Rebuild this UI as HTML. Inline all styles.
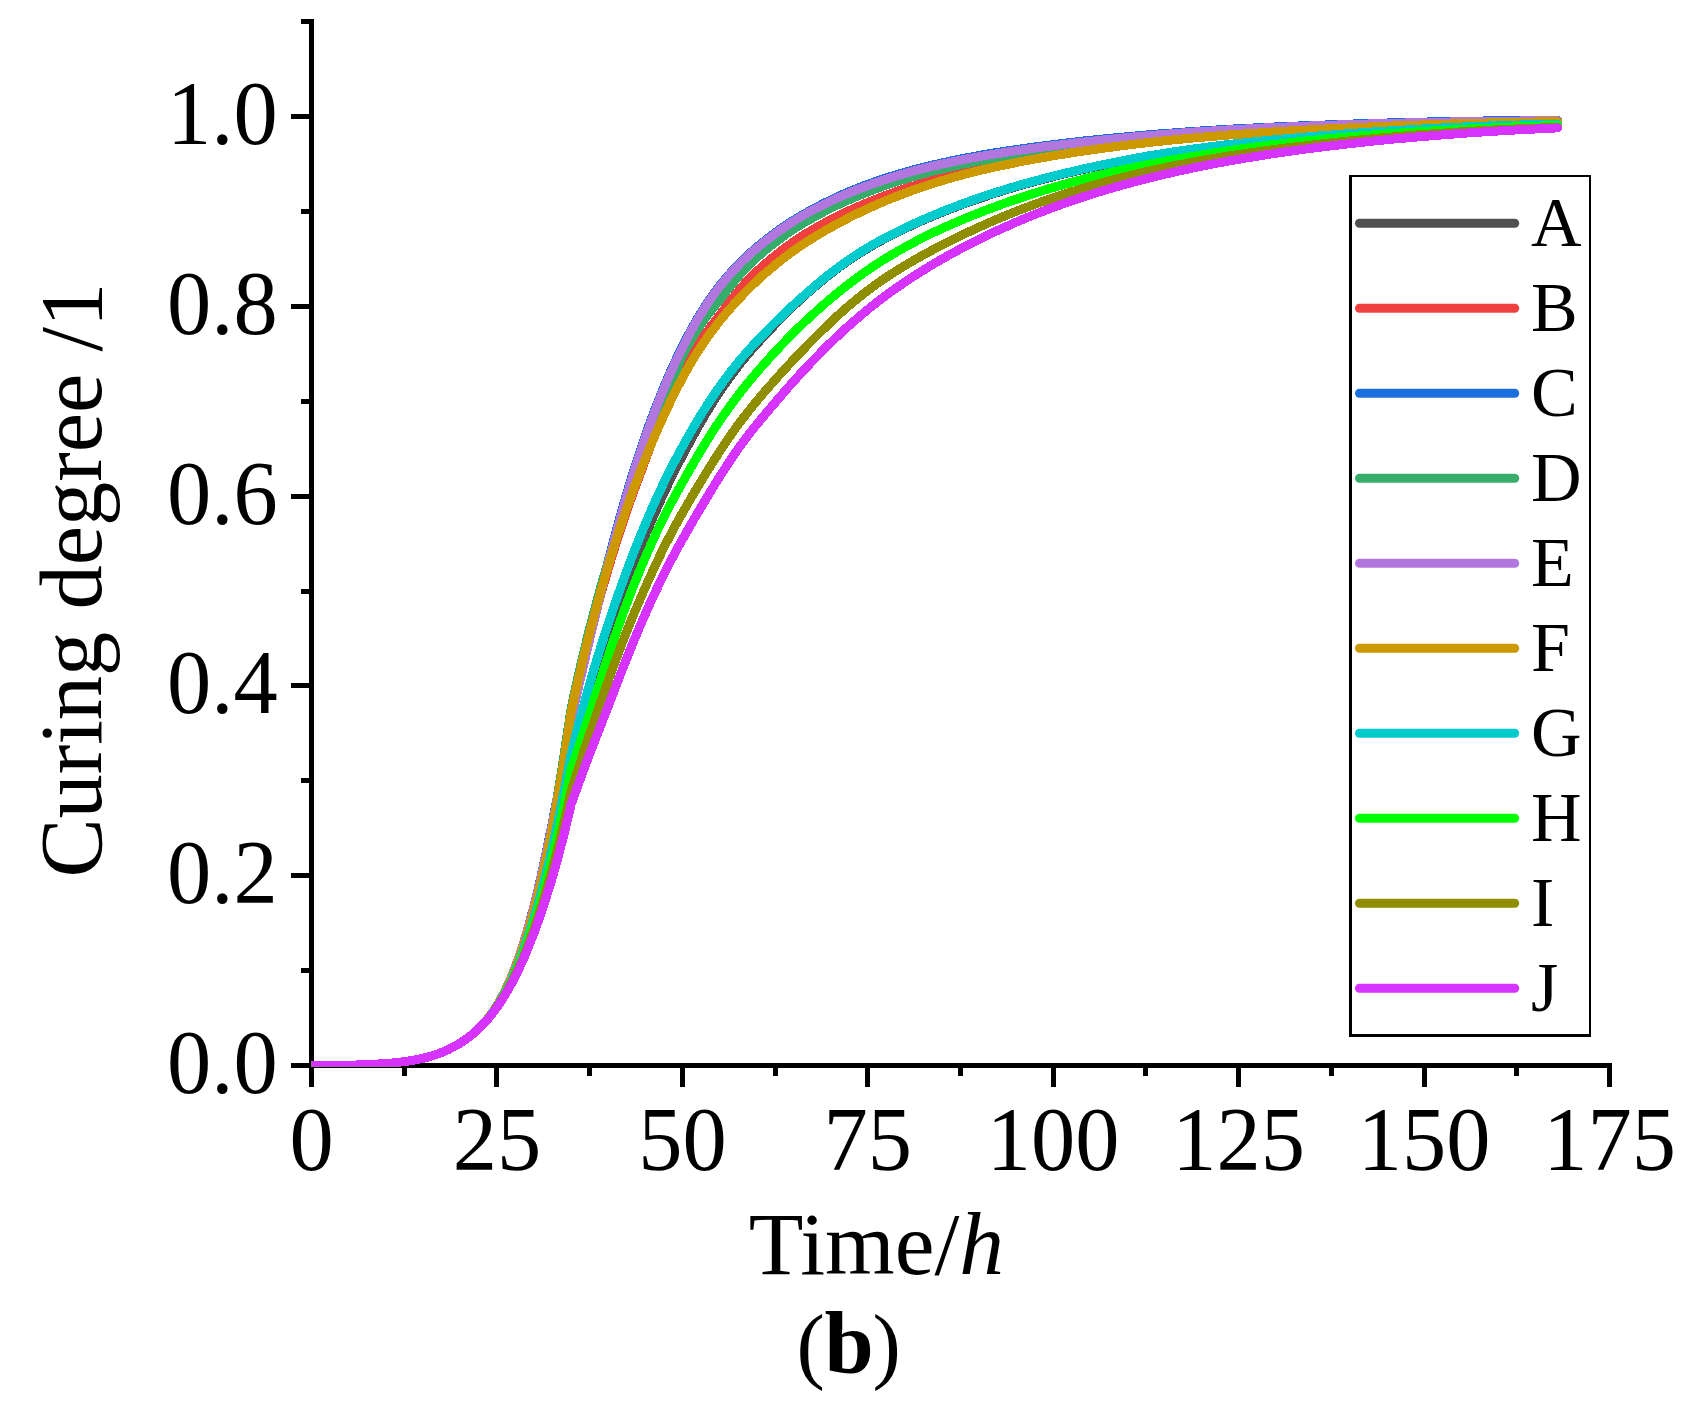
<!DOCTYPE html>
<html lang="en"><head><meta charset="utf-8"><title>Curing degree vs time (b)</title>
<style>
html,body{margin:0;padding:0;background:#fff;overflow:hidden;}
svg{display:block;}
text{font-family:"Liberation Serif","Times New Roman",serif;fill:#000;}
</style></head><body>
<svg width="1697" height="1413" viewBox="0 0 1697 1413">
<rect width="1697" height="1413" fill="#fff"/>
<g stroke="#000" stroke-width="5" fill="none" stroke-linecap="butt" shape-rendering="crispEdges">
<line x1="311.5" y1="19" x2="311.5" y2="1087"/>
<line x1="291" y1="1065.5" x2="1612" y2="1065.5"/>
<line x1="291" y1="1065.5" x2="311.5" y2="1065.5"/>
<line x1="301" y1="970.6" x2="311.5" y2="970.6"/>
<line x1="291" y1="875.7" x2="311.5" y2="875.7"/>
<line x1="301" y1="780.8" x2="311.5" y2="780.8"/>
<line x1="291" y1="685.9" x2="311.5" y2="685.9"/>
<line x1="301" y1="591.0" x2="311.5" y2="591.0"/>
<line x1="291" y1="496.1" x2="311.5" y2="496.1"/>
<line x1="301" y1="401.2" x2="311.5" y2="401.2"/>
<line x1="291" y1="306.3" x2="311.5" y2="306.3"/>
<line x1="301" y1="211.4" x2="311.5" y2="211.4"/>
<line x1="291" y1="116.5" x2="311.5" y2="116.5"/>
<line x1="301" y1="21.6" x2="311.5" y2="21.6"/>
<line x1="311.5" y1="1065.5" x2="311.5" y2="1087"/>
<line x1="404.2" y1="1065.5" x2="404.2" y2="1076"/>
<line x1="496.9" y1="1065.5" x2="496.9" y2="1087"/>
<line x1="589.6" y1="1065.5" x2="589.6" y2="1076"/>
<line x1="682.4" y1="1065.5" x2="682.4" y2="1087"/>
<line x1="775.1" y1="1065.5" x2="775.1" y2="1076"/>
<line x1="867.8" y1="1065.5" x2="867.8" y2="1087"/>
<line x1="960.5" y1="1065.5" x2="960.5" y2="1076"/>
<line x1="1053.2" y1="1065.5" x2="1053.2" y2="1087"/>
<line x1="1145.9" y1="1065.5" x2="1145.9" y2="1076"/>
<line x1="1238.6" y1="1065.5" x2="1238.6" y2="1087"/>
<line x1="1331.4" y1="1065.5" x2="1331.4" y2="1076"/>
<line x1="1424.1" y1="1065.5" x2="1424.1" y2="1087"/>
<line x1="1516.8" y1="1065.5" x2="1516.8" y2="1076"/>
<line x1="1609.5" y1="1065.5" x2="1609.5" y2="1087"/>
</g>
<g font-size="88.5">
<text transform="translate(277.7,1092.9) scale(1,1.033)" text-anchor="end">0.0</text>
<text transform="translate(277.7,903.1) scale(1,1.033)" text-anchor="end">0.2</text>
<text transform="translate(277.7,713.3) scale(1,1.033)" text-anchor="end">0.4</text>
<text transform="translate(277.7,523.5) scale(1,1.033)" text-anchor="end">0.6</text>
<text transform="translate(277.7,333.7) scale(1,1.033)" text-anchor="end">0.8</text>
<text transform="translate(277.7,143.9) scale(1,1.033)" text-anchor="end">1.0</text>
<text transform="translate(311.5,1169.8) scale(1,1.033)" text-anchor="middle">0</text>
<text transform="translate(496.9,1169.8) scale(1,1.033)" text-anchor="middle">25</text>
<text transform="translate(682.4,1169.8) scale(1,1.033)" text-anchor="middle">50</text>
<text transform="translate(867.8,1169.8) scale(1,1.033)" text-anchor="middle">75</text>
<text transform="translate(1053.2,1169.8) scale(1,1.033)" text-anchor="middle">100</text>
<text transform="translate(1238.6,1169.8) scale(1,1.033)" text-anchor="middle">125</text>
<text transform="translate(1424.1,1169.8) scale(1,1.033)" text-anchor="middle">150</text>
<text transform="translate(1609.5,1169.8) scale(1,1.033)" text-anchor="middle">175</text>
<text x="748.7" y="1273.5" font-size="89.5">Time/<tspan font-style="italic">h</tspan></text>
<text y="1372.5"><tspan x="796.6" font-size="85">(</tspan><tspan x="824.4" font-weight="bold">b</tspan><tspan x="872.5" font-size="85">)</tspan></text>
<text transform="translate(101,877.5) rotate(-90)">Curing degree /1</text>
</g>
<defs><clipPath id="pc"><rect x="311.3" y="0" width="1400" height="1066.8"/></clipPath></defs>
<g clip-path="url(#pc)" fill="none" stroke-width="9" stroke-linejoin="round" stroke-linecap="round" shape-rendering="crispEdges">
<polyline stroke="#515151" points="311.5,1065.5 315.2,1065.5 318.9,1065.5 322.6,1065.5 326.3,1065.5 330.0,1065.4 333.8,1065.4 337.5,1065.3 341.2,1065.3 344.9,1065.2 348.6,1065.2 352.3,1065.1 356.0,1065.0 359.7,1064.9 363.4,1064.7 367.1,1064.6 370.8,1064.4 374.5,1064.2 378.3,1064.0 382.0,1063.8 385.7,1063.5 389.4,1063.2 393.1,1062.9 396.8,1062.5 400.5,1062.1 404.2,1061.6 407.9,1061.1 411.6,1060.5 415.3,1059.9 419.0,1059.1 422.8,1058.3 426.5,1057.4 430.2,1056.4 433.9,1055.2 437.6,1054.0 441.3,1052.6 445.0,1051.0 448.7,1049.4 452.4,1047.5 456.1,1045.5 459.8,1043.3 463.6,1040.9 467.3,1038.3 471.0,1035.4 474.7,1032.3 478.4,1028.9 482.1,1025.2 485.8,1021.1 489.5,1016.6 493.2,1011.7 496.9,1006.2 500.6,1000.3 504.3,993.8 508.1,986.8 511.8,979.1 515.5,970.7 519.2,961.7 522.9,952.0 526.6,941.5 530.3,930.3 534.0,918.3 537.7,905.5 541.4,891.9 545.1,877.4 548.8,862.2 552.6,846.1 556.3,829.2 560.0,812.5 563.7,795.0 567.4,776.8 571.1,757.9 574.8,742.8 578.5,729.2 582.2,715.8 585.9,702.7 589.6,689.9 593.4,677.5 597.1,665.6 600.8,653.9 604.5,642.7 608.2,631.7 611.9,621.0 615.6,610.6 619.3,600.4 623.0,590.4 626.7,580.7 630.4,571.2 634.1,561.8 637.9,552.7 641.6,543.8 645.3,535.1 649.0,526.6 652.7,518.3 656.4,509.7 660.1,501.4 663.8,493.3 667.5,485.5 671.2,477.8 674.9,470.3 678.6,463.1 682.4,455.9 686.1,449.0 689.8,442.2 693.5,435.4 697.2,428.7 700.9,422.2 704.6,415.9 708.3,409.8 712.0,403.8 715.7,397.9 719.4,392.2 723.2,386.8 726.9,381.4 730.6,376.3 734.3,371.3 738.0,366.4 741.7,361.8 745.4,357.3 749.1,352.9 752.8,348.6 756.5,344.5 760.2,340.4 763.9,336.3 767.7,332.3 771.4,328.4 775.1,324.5 778.8,320.7 782.5,316.9 786.2,313.2 789.9,309.5 793.6,305.9 797.3,302.4 801.0,298.9 804.7,295.6 808.4,292.3 812.2,289.1 815.9,285.9 819.6,282.8 823.3,279.7 827.0,276.7 830.7,273.8 838.1,268.1 845.5,262.7 853.0,257.6 860.4,252.8 867.8,248.3 875.2,244.0 882.6,239.9 890.0,236.0 897.5,232.3 904.9,228.7 912.3,225.2 919.7,221.8 927.1,218.6 934.5,215.4 942.0,212.4 949.4,209.5 956.8,206.6 964.2,203.8 971.6,201.2 979.0,198.6 986.5,196.1 993.9,193.6 1001.3,191.3 1008.7,189.0 1016.1,186.8 1023.5,184.6 1031.0,182.6 1038.4,180.5 1045.8,178.6 1053.2,176.7 1060.6,174.8 1068.0,173.0 1075.5,171.3 1082.9,169.5 1090.3,167.9 1097.7,166.3 1105.1,164.7 1112.6,163.2 1120.0,161.7 1127.4,160.3 1134.8,158.9 1142.2,157.5 1149.6,156.2 1157.1,154.9 1164.5,153.7 1171.9,152.5 1179.3,151.4 1186.7,150.3 1194.1,149.3 1201.6,148.3 1209.0,147.3 1216.4,146.3 1223.8,145.4 1231.2,144.6 1238.6,143.7 1246.1,142.9 1253.5,142.2 1260.9,141.4 1268.3,140.7 1275.7,140.0 1283.1,139.3 1290.6,138.6 1298.0,137.9 1305.4,137.3 1312.8,136.7 1320.2,136.1 1327.6,135.5 1335.1,134.9 1342.5,134.3 1349.9,133.8 1357.3,133.3 1364.7,132.7 1372.2,132.2 1379.6,131.7 1387.0,131.2 1394.4,130.8 1401.8,130.3 1409.2,129.9 1416.7,129.5 1424.1,129.1 1431.5,128.7 1438.9,128.3 1446.3,127.9 1453.7,127.6 1461.2,127.2 1468.6,126.9 1476.0,126.6 1483.4,126.3 1490.8,126.0 1498.2,125.8 1505.7,125.5 1513.1,125.3 1520.5,125.1 1527.9,124.9 1535.3,124.7 1542.7,124.5 1550.2,124.4 1557.6,124.2"/>
<polyline stroke="#F14040" points="311.5,1065.5 315.2,1065.5 318.9,1065.5 322.6,1065.5 326.3,1065.5 330.0,1065.4 333.8,1065.4 337.5,1065.3 341.2,1065.3 344.9,1065.2 348.6,1065.2 352.3,1065.1 356.0,1065.0 359.7,1064.9 363.4,1064.7 367.1,1064.6 370.8,1064.4 374.5,1064.2 378.3,1064.0 382.0,1063.8 385.7,1063.5 389.4,1063.2 393.1,1062.9 396.8,1062.5 400.5,1062.1 404.2,1061.6 407.9,1061.1 411.6,1060.5 415.3,1059.9 419.0,1059.1 422.8,1058.3 426.5,1057.4 430.2,1056.4 433.9,1055.2 437.6,1054.0 441.3,1052.6 445.0,1051.0 448.7,1049.4 452.4,1047.5 456.1,1045.5 459.8,1043.3 463.6,1040.9 467.3,1038.3 471.0,1035.5 474.7,1032.3 478.4,1028.9 482.1,1025.2 485.8,1021.0 489.5,1016.4 493.2,1011.3 496.9,1005.7 500.6,999.5 504.3,992.6 508.1,985.1 511.8,976.9 515.5,967.9 519.2,958.0 522.9,947.5 526.6,936.0 530.3,923.7 534.0,910.4 537.7,896.1 541.4,880.8 545.1,864.4 548.8,846.9 552.6,828.2 556.3,808.3 560.0,787.1 563.7,764.7 567.4,741.0 571.1,715.9 574.8,697.8 578.5,681.5 582.2,665.6 585.9,650.3 589.6,635.7 593.4,621.5 597.1,607.8 600.8,594.6 604.5,581.7 608.2,569.2 611.9,556.8 615.6,544.9 619.3,533.3 623.0,522.0 626.7,511.1 630.4,500.6 634.1,490.3 637.9,480.3 641.6,470.1 645.3,460.1 649.0,450.3 652.7,440.7 656.4,431.4 660.1,422.3 663.8,413.4 667.5,404.7 671.2,396.2 674.9,388.0 678.6,379.9 682.4,372.1 686.1,365.3 689.8,358.7 693.5,352.4 697.2,346.4 700.9,340.7 704.6,335.3 708.3,330.1 712.0,325.0 715.7,320.2 719.4,315.6 723.2,310.5 726.9,305.5 730.6,300.7 734.3,296.0 738.0,291.5 741.7,287.1 745.4,282.8 749.1,278.7 752.8,275.1 756.5,271.7 760.2,268.3 763.9,265.0 767.7,261.8 771.4,258.7 775.1,255.6 778.8,252.7 782.5,249.8 786.2,247.1 789.9,244.4 793.6,241.7 797.3,239.2 801.0,236.7 804.7,234.4 808.4,232.2 812.2,230.0 815.9,227.8 819.6,225.7 823.3,223.7 827.0,221.7 830.7,219.8 838.1,216.0 845.5,212.4 853.0,208.9 860.4,205.7 867.8,202.5 875.2,199.5 882.6,196.6 890.0,193.9 897.5,191.2 904.9,188.7 912.3,186.3 919.7,184.1 927.1,181.9 934.5,179.8 942.0,177.8 949.4,175.9 956.8,174.1 964.2,172.4 971.6,170.7 979.0,169.1 986.5,167.5 993.9,166.0 1001.3,164.6 1008.7,163.1 1016.1,161.6 1023.5,160.2 1031.0,158.9 1038.4,157.6 1045.8,156.3 1053.2,155.0 1060.6,153.8 1068.0,152.7 1075.5,151.6 1082.9,150.5 1090.3,149.4 1097.7,148.4 1105.1,147.4 1112.6,146.4 1120.0,145.5 1127.4,144.5 1134.8,143.7 1142.2,142.8 1149.6,142.0 1157.1,141.2 1164.5,140.4 1171.9,139.6 1179.3,138.9 1186.7,138.2 1194.1,137.6 1201.6,136.9 1209.0,136.3 1216.4,135.7 1223.8,135.1 1231.2,134.5 1238.6,134.0 1246.1,133.5 1253.5,133.0 1260.9,132.5 1268.3,132.0 1275.7,131.6 1283.1,131.1 1290.6,130.7 1298.0,130.3 1305.4,129.9 1312.8,129.5 1320.2,129.1 1327.6,128.7 1335.1,128.4 1342.5,128.0 1349.9,127.7 1357.3,127.3 1364.7,127.0 1372.2,126.7 1379.6,126.4 1387.0,126.1 1394.4,125.8 1401.8,125.5 1409.2,125.3 1416.7,125.0 1424.1,124.8 1431.5,124.5 1438.9,124.3 1446.3,124.1 1453.7,123.8 1461.2,123.6 1468.6,123.4 1476.0,123.2 1483.4,123.0 1490.8,122.9 1498.2,122.7 1505.7,122.5 1513.1,122.4 1520.5,122.2 1527.9,122.1 1535.3,121.9 1542.7,121.8 1550.2,121.7 1557.6,121.5"/>
<polyline stroke="#1A6FDF" points="311.5,1065.5 315.2,1065.5 318.9,1065.5 322.6,1065.5 326.3,1065.5 330.0,1065.4 333.8,1065.4 337.5,1065.3 341.2,1065.3 344.9,1065.2 348.6,1065.2 352.3,1065.1 356.0,1065.0 359.7,1064.9 363.4,1064.7 367.1,1064.6 370.8,1064.4 374.5,1064.2 378.3,1064.0 382.0,1063.8 385.7,1063.5 389.4,1063.2 393.1,1062.9 396.8,1062.5 400.5,1062.1 404.2,1061.6 407.9,1061.1 411.6,1060.5 415.3,1059.9 419.0,1059.1 422.8,1058.3 426.5,1057.4 430.2,1056.4 433.9,1055.2 437.6,1054.0 441.3,1052.6 445.0,1051.0 448.7,1049.4 452.4,1047.5 456.1,1045.5 459.8,1043.3 463.6,1040.9 467.3,1038.3 471.0,1035.5 474.7,1032.4 478.4,1028.9 482.1,1025.1 485.8,1021.0 489.5,1016.3 493.2,1011.2 496.9,1005.4 500.6,999.1 504.3,992.1 508.1,984.3 511.8,975.8 515.5,966.4 519.2,956.2 522.9,945.0 526.6,932.8 530.3,919.6 534.0,905.5 537.7,890.5 541.4,874.4 545.1,857.5 548.8,839.8 552.6,821.2 556.3,801.9 560.0,781.9 563.7,761.1 567.4,739.6 571.1,718.1 574.8,701.5 578.5,685.1 582.2,668.9 585.9,652.9 589.6,637.1 593.4,621.4 597.1,606.0 600.8,590.8 604.5,575.8 608.2,561.1 611.9,546.9 615.6,533.0 619.3,519.5 623.0,506.4 626.7,493.6 630.4,481.2 634.1,469.3 637.9,457.7 641.6,446.5 645.3,435.7 649.0,425.2 652.7,415.2 656.4,405.5 660.1,396.2 663.8,387.1 667.5,378.4 671.2,370.0 674.9,361.9 678.6,354.1 682.4,346.5 686.1,339.2 689.8,332.1 693.5,325.4 697.2,318.9 700.9,312.8 704.6,306.9 708.3,301.3 712.0,296.0 715.7,290.9 719.4,286.1 723.2,281.4 726.9,277.0 730.6,272.7 734.3,268.7 738.0,264.8 741.7,261.0 745.4,257.5 749.1,254.0 752.8,250.7 756.5,247.5 760.2,244.4 763.9,241.4 767.7,238.4 771.4,235.6 775.1,232.8 778.8,230.1 782.5,227.5 786.2,225.0 789.9,222.6 793.6,220.2 797.3,217.9 801.0,215.7 804.7,213.6 808.4,211.5 812.2,209.4 815.9,207.4 819.6,205.5 823.3,203.6 827.0,201.8 830.7,200.0 838.1,196.5 845.5,193.2 853.0,190.1 860.4,187.1 867.8,184.3 875.2,181.6 882.6,179.1 890.0,176.7 897.5,174.4 904.9,172.2 912.3,170.2 919.7,168.2 927.1,166.4 934.5,164.6 942.0,162.9 949.4,161.3 956.8,159.7 964.2,158.3 971.6,156.9 979.0,155.5 986.5,154.2 993.9,153.0 1001.3,151.8 1008.7,150.7 1016.1,149.6 1023.5,148.5 1031.0,147.5 1038.4,146.5 1045.8,145.5 1053.2,144.6 1060.6,143.7 1068.0,142.8 1075.5,142.0 1082.9,141.1 1090.3,140.3 1097.7,139.6 1105.1,138.8 1112.6,138.1 1120.0,137.4 1127.4,136.7 1134.8,136.0 1142.2,135.4 1149.6,134.7 1157.1,134.1 1164.5,133.5 1171.9,133.0 1179.3,132.4 1186.7,131.9 1194.1,131.4 1201.6,130.9 1209.0,130.4 1216.4,130.0 1223.8,129.6 1231.2,129.1 1238.6,128.7 1246.1,128.4 1253.5,128.0 1260.9,127.6 1268.3,127.3 1275.7,126.9 1283.1,126.6 1290.6,126.3 1298.0,126.0 1305.4,125.7 1312.8,125.5 1320.2,125.2 1327.6,124.9 1335.1,124.6 1342.5,124.4 1349.9,124.1 1357.3,123.9 1364.7,123.7 1372.2,123.4 1379.6,123.2 1387.0,123.0 1394.4,122.8 1401.8,122.6 1409.2,122.4 1416.7,122.3 1424.1,122.1 1431.5,121.9 1438.9,121.8 1446.3,121.6 1453.7,121.5 1461.2,121.4 1468.6,121.2 1476.0,121.1 1483.4,121.0 1490.8,120.9 1498.2,120.8 1505.7,120.7 1513.1,120.6 1520.5,120.5 1527.9,120.5 1535.3,120.4 1542.7,120.4 1550.2,120.3 1557.6,120.3"/>
<polyline stroke="#37AD6B" points="311.5,1065.5 315.2,1065.5 318.9,1065.5 322.6,1065.5 326.3,1065.5 330.0,1065.4 333.8,1065.4 337.5,1065.3 341.2,1065.3 344.9,1065.2 348.6,1065.2 352.3,1065.1 356.0,1065.0 359.7,1064.9 363.4,1064.7 367.1,1064.6 370.8,1064.4 374.5,1064.2 378.3,1064.0 382.0,1063.8 385.7,1063.5 389.4,1063.2 393.1,1062.9 396.8,1062.5 400.5,1062.1 404.2,1061.6 407.9,1061.1 411.6,1060.5 415.3,1059.9 419.0,1059.1 422.8,1058.3 426.5,1057.4 430.2,1056.4 433.9,1055.2 437.6,1054.0 441.3,1052.6 445.0,1051.0 448.7,1049.4 452.4,1047.5 456.1,1045.5 459.8,1043.3 463.6,1040.9 467.3,1038.3 471.0,1035.5 474.7,1032.3 478.4,1028.9 482.1,1025.2 485.8,1021.0 489.5,1016.4 493.2,1011.3 496.9,1005.7 500.6,999.5 504.3,992.6 508.1,985.1 511.8,976.9 515.5,967.9 519.2,958.0 522.9,947.2 526.6,935.4 530.3,922.7 534.0,908.9 537.7,894.2 541.4,878.3 545.1,861.2 548.8,843.0 552.6,823.5 556.3,802.8 560.0,780.7 563.7,757.3 567.4,732.5 571.1,708.4 574.8,691.3 578.5,674.8 582.2,658.9 585.9,643.5 589.6,628.6 593.4,614.2 597.1,600.3 600.8,586.8 604.5,573.9 608.2,561.5 611.9,549.4 615.6,537.6 619.3,526.3 623.0,515.2 626.7,504.5 630.4,494.2 634.1,484.1 637.9,474.3 641.6,463.7 645.3,453.2 649.0,442.8 652.7,432.6 656.4,422.4 660.1,412.4 663.8,402.5 667.5,392.8 671.2,383.3 674.9,373.9 678.6,364.8 682.4,355.8 686.1,348.9 689.8,342.3 693.5,336.0 697.2,329.9 700.9,324.4 704.6,319.2 708.3,314.2 712.0,309.5 715.7,305.0 719.4,300.8 723.2,295.7 726.9,290.8 730.6,286.0 734.3,281.4 738.0,277.0 741.7,272.7 745.4,268.6 749.1,264.6 752.8,261.2 756.5,257.8 760.2,254.6 763.9,251.4 767.7,248.4 771.4,245.4 775.1,242.5 778.8,239.7 782.5,237.0 786.2,234.3 789.9,231.8 793.6,229.3 797.3,226.9 801.0,224.5 804.7,222.3 808.4,220.2 812.2,218.1 815.9,216.0 819.6,214.0 823.3,212.1 827.0,210.2 830.7,208.3 838.1,204.7 845.5,201.3 853.0,198.1 860.4,194.9 867.8,192.0 875.2,189.1 882.6,186.4 890.0,183.8 897.5,181.4 904.9,179.0 912.3,176.8 919.7,174.7 927.1,172.7 934.5,170.8 942.0,169.0 949.4,167.3 956.8,165.6 964.2,164.0 971.6,162.5 979.0,161.0 986.5,159.7 993.9,158.3 1001.3,157.0 1008.7,155.8 1016.1,154.5 1023.5,153.3 1031.0,152.2 1038.4,151.1 1045.8,150.0 1053.2,149.0 1060.6,148.0 1068.0,147.0 1075.5,146.0 1082.9,145.1 1090.3,144.2 1097.7,143.3 1105.1,142.5 1112.6,141.6 1120.0,140.8 1127.4,140.0 1134.8,139.3 1142.2,138.6 1149.6,137.8 1157.1,137.2 1164.5,136.5 1171.9,135.8 1179.3,135.2 1186.7,134.6 1194.1,134.1 1201.6,133.5 1209.0,133.0 1216.4,132.4 1223.8,132.0 1231.2,131.5 1238.6,131.0 1246.1,130.6 1253.5,130.1 1260.9,129.7 1268.3,129.3 1275.7,128.9 1283.1,128.6 1290.6,128.2 1298.0,127.8 1305.4,127.5 1312.8,127.2 1320.2,126.9 1327.6,126.5 1335.1,126.2 1342.5,126.0 1349.9,125.7 1357.3,125.4 1364.7,125.1 1372.2,124.9 1379.6,124.6 1387.0,124.4 1394.4,124.2 1401.8,123.9 1409.2,123.7 1416.7,123.5 1424.1,123.3 1431.5,123.1 1438.9,123.0 1446.3,122.8 1453.7,122.6 1461.2,122.4 1468.6,122.3 1476.0,122.1 1483.4,122.0 1490.8,121.9 1498.2,121.8 1505.7,121.6 1513.1,121.5 1520.5,121.4 1527.9,121.3 1535.3,121.2 1542.7,121.1 1550.2,121.1 1557.6,121.0"/>
<polyline stroke="#B177DE" points="311.5,1065.5 315.2,1065.5 318.9,1065.5 322.6,1065.5 326.3,1065.5 330.0,1065.4 333.8,1065.4 337.5,1065.3 341.2,1065.3 344.9,1065.2 348.6,1065.2 352.3,1065.1 356.0,1065.0 359.7,1064.9 363.4,1064.7 367.1,1064.6 370.8,1064.4 374.5,1064.2 378.3,1064.0 382.0,1063.8 385.7,1063.5 389.4,1063.2 393.1,1062.9 396.8,1062.5 400.5,1062.1 404.2,1061.6 407.9,1061.1 411.6,1060.5 415.3,1059.9 419.0,1059.1 422.8,1058.3 426.5,1057.4 430.2,1056.4 433.9,1055.2 437.6,1054.0 441.3,1052.6 445.0,1051.0 448.7,1049.4 452.4,1047.5 456.1,1045.5 459.8,1043.3 463.6,1040.9 467.3,1038.3 471.0,1035.5 474.7,1032.4 478.4,1028.9 482.1,1025.1 485.8,1021.0 489.5,1016.3 493.2,1011.2 496.9,1005.4 500.6,999.1 504.3,992.1 508.1,984.3 511.8,975.8 515.5,966.4 519.2,956.2 522.9,945.0 526.6,933.0 530.3,920.0 534.0,906.0 537.7,891.1 541.4,875.3 545.1,858.5 548.8,841.0 552.6,822.6 556.3,803.6 560.0,783.7 563.7,763.2 567.4,742.0 571.1,720.0 574.8,703.5 578.5,687.2 582.2,671.2 585.9,655.3 589.6,639.5 593.4,624.0 597.1,608.7 600.8,593.5 604.5,578.6 608.2,564.0 611.9,549.7 615.6,535.8 619.3,522.2 623.0,509.0 626.7,496.1 630.4,483.7 634.1,471.6 637.9,460.0 641.6,448.7 645.3,437.8 649.0,427.3 652.7,417.2 656.4,407.4 660.1,398.0 663.8,388.9 667.5,380.2 671.2,371.7 674.9,363.5 678.6,355.6 682.4,348.0 686.1,340.6 689.8,333.5 693.5,326.7 697.2,320.2 700.9,314.0 704.6,308.1 708.3,302.4 712.0,297.0 715.7,291.9 719.4,287.0 723.2,282.4 726.9,277.9 730.6,273.6 734.3,269.6 738.0,265.7 741.7,261.9 745.4,258.3 749.1,254.9 752.8,251.6 756.5,248.4 760.2,245.3 763.9,242.3 767.7,239.3 771.4,236.5 775.1,233.7 778.8,231.1 782.5,228.5 786.2,226.0 789.9,223.6 793.6,221.2 797.3,218.9 801.0,216.7 804.7,214.6 808.4,212.5 812.2,210.5 815.9,208.5 819.6,206.6 823.3,204.7 827.0,202.9 830.7,201.1 838.1,197.7 845.5,194.4 853.0,191.3 860.4,188.4 867.8,185.6 875.2,182.9 882.6,180.4 890.0,178.0 897.5,175.7 904.9,173.5 912.3,171.4 919.7,169.4 927.1,167.6 934.5,165.8 942.0,164.1 949.4,162.5 956.8,160.9 964.2,159.5 971.6,158.1 979.0,156.7 986.5,155.4 993.9,154.2 1001.3,153.0 1008.7,151.8 1016.1,150.7 1023.5,149.7 1031.0,148.6 1038.4,147.6 1045.8,146.6 1053.2,145.7 1060.6,144.8 1068.0,143.9 1075.5,143.0 1082.9,142.2 1090.3,141.4 1097.7,140.6 1105.1,139.8 1112.6,139.1 1120.0,138.3 1127.4,137.6 1134.8,136.9 1142.2,136.3 1149.6,135.6 1157.1,135.0 1164.5,134.4 1171.9,133.8 1179.3,133.2 1186.7,132.7 1194.1,132.1 1201.6,131.6 1209.0,131.2 1216.4,130.7 1223.8,130.2 1231.2,129.8 1238.6,129.4 1246.1,129.0 1253.5,128.6 1260.9,128.2 1268.3,127.8 1275.7,127.5 1283.1,127.2 1290.6,126.8 1298.0,126.5 1305.4,126.2 1312.8,125.9 1320.2,125.6 1327.6,125.3 1335.1,125.1 1342.5,124.8 1349.9,124.6 1357.3,124.3 1364.7,124.1 1372.2,123.9 1379.6,123.7 1387.0,123.5 1394.4,123.3 1401.8,123.1 1409.2,122.9 1416.7,122.7 1424.1,122.5 1431.5,122.4 1438.9,122.2 1446.3,122.1 1453.7,121.9 1461.2,121.8 1468.6,121.7 1476.0,121.5 1483.4,121.4 1490.8,121.3 1498.2,121.2 1505.7,121.1 1513.1,121.1 1520.5,121.0 1527.9,120.9 1535.3,120.8 1542.7,120.8 1550.2,120.7 1557.6,120.7"/>
<polyline stroke="#CC9900" points="311.5,1065.5 315.2,1065.5 318.9,1065.5 322.6,1065.5 326.3,1065.5 330.0,1065.4 333.8,1065.4 337.5,1065.3 341.2,1065.3 344.9,1065.2 348.6,1065.2 352.3,1065.1 356.0,1065.0 359.7,1064.9 363.4,1064.7 367.1,1064.6 370.8,1064.4 374.5,1064.2 378.3,1064.0 382.0,1063.8 385.7,1063.5 389.4,1063.2 393.1,1062.9 396.8,1062.5 400.5,1062.1 404.2,1061.6 407.9,1061.1 411.6,1060.5 415.3,1059.9 419.0,1059.1 422.8,1058.3 426.5,1057.4 430.2,1056.4 433.9,1055.2 437.6,1054.0 441.3,1052.6 445.0,1051.0 448.7,1049.4 452.4,1047.5 456.1,1045.5 459.8,1043.3 463.6,1040.9 467.3,1038.3 471.0,1035.5 474.7,1032.3 478.4,1028.9 482.1,1025.2 485.8,1021.0 489.5,1016.4 493.2,1011.3 496.9,1005.7 500.6,999.5 504.3,992.6 508.1,985.1 511.8,976.9 515.5,967.9 519.2,958.0 522.9,947.4 526.6,935.8 530.3,923.3 534.0,909.9 537.7,895.4 541.4,879.8 545.1,863.2 548.8,845.4 552.6,826.4 556.3,806.2 560.0,784.7 563.7,761.9 567.4,737.8 571.1,712.3 574.8,695.3 578.5,679.0 582.2,663.1 585.9,647.9 589.6,633.1 593.4,618.8 597.1,605.0 600.8,591.5 604.5,578.5 608.2,565.9 611.9,553.7 615.6,541.8 619.3,530.3 623.0,519.2 626.7,508.4 630.4,497.9 634.1,487.7 637.9,477.8 641.6,468.1 645.3,458.7 649.0,449.6 652.7,440.8 656.4,432.2 660.1,423.8 663.8,415.6 667.5,407.7 671.2,400.0 674.9,392.5 678.6,385.2 682.4,378.1 686.1,371.3 689.8,364.8 693.5,358.6 697.2,352.6 700.9,346.9 704.6,341.4 708.3,336.1 712.0,331.0 715.7,326.2 719.4,321.4 723.2,316.8 726.9,312.4 730.6,308.1 734.3,303.9 738.0,299.9 741.7,296.0 745.4,292.1 749.1,288.4 752.8,284.8 756.5,281.3 760.2,277.9 763.9,274.5 767.7,271.3 771.4,268.1 775.1,265.0 778.8,262.0 782.5,259.1 786.2,256.3 789.9,253.5 793.6,250.8 797.3,248.2 801.0,245.7 804.7,243.2 808.4,240.8 812.2,238.5 815.9,236.2 819.6,233.9 823.3,231.7 827.0,229.6 830.7,227.5 838.1,223.4 845.5,219.5 853.0,215.7 860.4,212.1 867.8,208.7 875.2,205.3 882.6,202.1 890.0,199.0 897.5,196.1 904.9,193.2 912.3,190.5 919.7,187.9 927.1,185.4 934.5,183.0 942.0,180.7 949.4,178.5 956.8,176.4 964.2,174.4 971.6,172.5 979.0,170.7 986.5,168.9 993.9,167.2 1001.3,165.6 1008.7,164.1 1016.1,162.6 1023.5,161.1 1031.0,159.7 1038.4,158.4 1045.8,157.1 1053.2,155.8 1060.6,154.6 1068.0,153.4 1075.5,152.2 1082.9,151.1 1090.3,150.0 1097.7,149.0 1105.1,147.9 1112.6,147.0 1120.0,146.0 1127.4,145.1 1134.8,144.1 1142.2,143.3 1149.6,142.4 1157.1,141.6 1164.5,140.8 1171.9,140.0 1179.3,139.3 1186.7,138.6 1194.1,137.9 1201.6,137.3 1209.0,136.6 1216.4,136.0 1223.8,135.4 1231.2,134.8 1238.6,134.3 1246.1,133.8 1253.5,133.3 1260.9,132.8 1268.3,132.3 1275.7,131.8 1283.1,131.4 1290.6,130.9 1298.0,130.5 1305.4,130.1 1312.8,129.7 1320.2,129.3 1327.6,128.9 1335.1,128.5 1342.5,128.2 1349.9,127.8 1357.3,127.5 1364.7,127.2 1372.2,126.8 1379.6,126.5 1387.0,126.2 1394.4,125.9 1401.8,125.7 1409.2,125.4 1416.7,125.1 1424.1,124.9 1431.5,124.6 1438.9,124.4 1446.3,124.1 1453.7,123.9 1461.2,123.7 1468.6,123.5 1476.0,123.3 1483.4,123.1 1490.8,122.9 1498.2,122.7 1505.7,122.6 1513.1,122.4 1520.5,122.2 1527.9,122.1 1535.3,122.0 1542.7,121.8 1550.2,121.7 1557.6,121.6"/>
<polyline stroke="#00CBCC" points="311.5,1065.5 315.2,1065.5 318.9,1065.5 322.6,1065.5 326.3,1065.5 330.0,1065.4 333.8,1065.4 337.5,1065.3 341.2,1065.3 344.9,1065.2 348.6,1065.2 352.3,1065.1 356.0,1065.0 359.7,1064.9 363.4,1064.7 367.1,1064.6 370.8,1064.4 374.5,1064.2 378.3,1064.0 382.0,1063.8 385.7,1063.5 389.4,1063.2 393.1,1062.9 396.8,1062.5 400.5,1062.1 404.2,1061.6 407.9,1061.1 411.6,1060.5 415.3,1059.9 419.0,1059.1 422.8,1058.3 426.5,1057.4 430.2,1056.4 433.9,1055.2 437.6,1054.0 441.3,1052.6 445.0,1051.0 448.7,1049.4 452.4,1047.5 456.1,1045.5 459.8,1043.3 463.6,1040.9 467.3,1038.3 471.0,1035.4 474.7,1032.3 478.4,1028.9 482.1,1025.2 485.8,1021.1 489.5,1016.6 493.2,1011.7 496.9,1006.2 500.6,1000.3 504.3,993.8 508.1,986.8 511.8,979.1 515.5,970.7 519.2,961.7 522.9,952.0 526.6,941.5 530.3,930.3 534.0,918.3 537.7,905.5 541.4,891.9 545.1,877.4 548.8,862.2 552.6,846.1 556.3,829.2 560.0,811.6 563.7,793.1 567.4,773.8 571.1,753.8 574.8,739.2 578.5,724.9 582.2,710.9 585.9,697.2 589.6,684.0 593.4,671.2 597.1,658.8 600.8,646.8 604.5,635.1 608.2,623.8 611.9,612.7 615.6,602.0 619.3,591.4 623.0,581.1 626.7,571.0 630.4,561.1 634.1,551.5 637.9,542.0 641.6,532.8 645.3,523.9 649.0,515.2 652.7,506.8 656.4,498.6 660.1,490.6 663.8,482.8 667.5,475.3 671.2,467.9 674.9,460.7 678.6,453.6 682.4,446.8 686.1,440.1 689.8,433.6 693.5,427.2 697.2,421.0 700.9,414.9 704.6,409.1 708.3,403.3 712.0,397.7 715.7,392.2 719.4,386.9 723.2,381.7 726.9,376.7 730.6,371.8 734.3,367.1 738.0,362.5 741.7,358.0 745.4,353.8 749.1,349.6 752.8,345.5 756.5,341.6 760.2,337.6 763.9,333.8 767.7,330.0 771.4,326.2 775.1,322.5 778.8,318.9 782.5,315.3 786.2,311.8 789.9,308.3 793.6,304.8 797.3,301.4 801.0,298.1 804.7,294.8 808.4,291.5 812.2,288.3 815.9,285.1 819.6,282.0 823.3,279.0 827.0,276.0 830.7,273.1 838.1,267.5 845.5,262.1 853.0,257.0 860.4,252.2 867.8,247.6 875.2,243.3 882.6,239.2 890.0,235.3 897.5,231.6 904.9,228.0 912.3,224.5 919.7,221.1 927.1,217.9 934.5,214.8 942.0,211.7 949.4,208.8 956.8,205.9 964.2,203.2 971.6,200.5 979.0,197.9 986.5,195.4 993.9,193.0 1001.3,190.7 1008.7,188.4 1016.1,186.2 1023.5,184.0 1031.0,182.0 1038.4,180.0 1045.8,178.0 1053.2,176.1 1060.6,174.3 1068.0,172.5 1075.5,170.7 1082.9,169.0 1090.3,167.4 1097.7,165.7 1105.1,164.2 1112.6,162.7 1120.0,161.2 1127.4,159.8 1134.8,158.4 1142.2,157.0 1149.6,155.7 1157.1,154.5 1164.5,153.3 1171.9,152.1 1179.3,151.0 1186.7,149.9 1194.1,148.9 1201.6,147.9 1209.0,146.9 1216.4,146.0 1223.8,145.1 1231.2,144.3 1238.6,143.4 1246.1,142.7 1253.5,141.9 1260.9,141.1 1268.3,140.4 1275.7,139.7 1283.1,139.0 1290.6,138.4 1298.0,137.7 1305.4,137.1 1312.8,136.5 1320.2,135.8 1327.6,135.3 1335.1,134.7 1342.5,134.1 1349.9,133.6 1357.3,133.1 1364.7,132.5 1372.2,132.0 1379.6,131.5 1387.0,131.1 1394.4,130.6 1401.8,130.2 1409.2,129.7 1416.7,129.3 1424.1,128.9 1431.5,128.5 1438.9,128.1 1446.3,127.8 1453.7,127.4 1461.2,127.1 1468.6,126.8 1476.0,126.5 1483.4,126.2 1490.8,125.9 1498.2,125.7 1505.7,125.4 1513.1,125.2 1520.5,125.0 1527.9,124.8 1535.3,124.6 1542.7,124.5 1550.2,124.3 1557.6,124.2"/>
<polyline stroke="#00FF00" points="311.5,1065.5 315.2,1065.5 318.9,1065.5 322.6,1065.5 326.3,1065.5 330.0,1065.4 333.8,1065.4 337.5,1065.3 341.2,1065.3 344.9,1065.2 348.6,1065.2 352.3,1065.1 356.0,1065.0 359.7,1064.9 363.4,1064.7 367.1,1064.6 370.8,1064.4 374.5,1064.2 378.3,1064.0 382.0,1063.8 385.7,1063.5 389.4,1063.2 393.1,1062.9 396.8,1062.5 400.5,1062.1 404.2,1061.6 407.9,1061.1 411.6,1060.5 415.3,1059.9 419.0,1059.1 422.8,1058.3 426.5,1057.4 430.2,1056.4 433.9,1055.2 437.6,1054.0 441.3,1052.6 445.0,1051.1 448.7,1049.4 452.4,1047.5 456.1,1045.5 459.8,1043.3 463.6,1040.9 467.3,1038.2 471.0,1035.4 474.7,1032.3 478.4,1028.9 482.1,1025.2 485.8,1021.1 489.5,1016.7 493.2,1011.9 496.9,1006.6 500.6,1000.9 504.3,994.6 508.1,987.8 511.8,980.5 515.5,972.5 519.2,964.0 522.9,954.8 526.6,945.0 530.3,934.4 534.0,923.2 537.7,911.3 541.4,898.6 545.1,885.2 548.8,871.1 552.6,856.1 556.3,840.3 560.0,823.7 563.7,806.3 567.4,788.0 571.1,768.9 574.8,758.1 578.5,747.1 582.2,736.1 585.9,724.9 589.6,713.5 593.4,702.1 597.1,690.6 600.8,679.1 604.5,667.7 608.2,656.4 611.9,645.4 615.6,634.5 619.3,623.9 623.0,613.6 626.7,603.6 630.4,593.8 634.1,584.3 637.9,575.1 641.6,566.1 645.3,557.3 649.0,548.9 652.7,540.6 656.4,532.6 660.1,524.9 663.8,517.4 667.5,510.1 671.2,503.0 674.9,496.0 678.6,489.3 682.4,482.6 686.1,476.0 689.8,469.5 693.5,463.1 697.2,456.7 700.9,450.5 704.6,444.4 708.3,438.4 712.0,432.5 715.7,426.8 719.4,421.3 723.2,415.8 726.9,410.6 730.6,405.4 734.3,400.4 738.0,395.5 741.7,390.7 745.4,386.0 749.1,381.5 752.8,377.0 756.5,372.7 760.2,368.4 763.9,364.2 767.7,360.0 771.4,355.9 775.1,351.9 778.8,347.9 782.5,344.0 786.2,340.2 789.9,336.4 793.6,332.7 797.3,329.0 801.0,325.4 804.7,321.9 808.4,318.4 812.2,315.0 815.9,311.6 819.6,308.2 823.3,305.0 827.0,301.7 830.7,298.6 838.1,292.4 845.5,286.5 853.0,280.8 860.4,275.3 867.8,270.1 875.2,265.1 882.6,260.3 890.0,255.8 897.5,251.4 904.9,247.2 912.3,243.2 919.7,239.3 927.1,235.6 934.5,232.0 942.0,228.6 949.4,225.2 956.8,222.0 964.2,218.9 971.6,215.8 979.0,212.9 986.5,210.0 993.9,207.2 1001.3,204.5 1008.7,201.8 1016.1,199.3 1023.5,196.8 1031.0,194.4 1038.4,192.0 1045.8,189.7 1053.2,187.5 1060.6,185.4 1068.0,183.3 1075.5,181.3 1082.9,179.3 1090.3,177.4 1097.7,175.6 1105.1,173.8 1112.6,172.1 1120.0,170.4 1127.4,168.8 1134.8,167.2 1142.2,165.7 1149.6,164.2 1157.1,162.8 1164.5,161.4 1171.9,160.0 1179.3,158.7 1186.7,157.4 1194.1,156.2 1201.6,154.9 1209.0,153.7 1216.4,152.6 1223.8,151.4 1231.2,150.3 1238.6,149.3 1246.1,148.2 1253.5,147.2 1260.9,146.2 1268.3,145.3 1275.7,144.4 1283.1,143.5 1290.6,142.6 1298.0,141.8 1305.4,141.0 1312.8,140.3 1320.2,139.5 1327.6,138.8 1335.1,138.1 1342.5,137.4 1349.9,136.8 1357.3,136.2 1364.7,135.6 1372.2,135.0 1379.6,134.5 1387.0,133.9 1394.4,133.4 1401.8,132.9 1409.2,132.4 1416.7,131.9 1424.1,131.5 1431.5,131.0 1438.9,130.6 1446.3,130.2 1453.7,129.8 1461.2,129.4 1468.6,129.0 1476.0,128.6 1483.4,128.3 1490.8,128.0 1498.2,127.6 1505.7,127.3 1513.1,127.0 1520.5,126.7 1527.9,126.5 1535.3,126.2 1542.7,126.0 1550.2,125.7 1557.6,125.5"/>
<polyline stroke="#8E8E00" points="311.5,1065.5 315.2,1065.5 318.9,1065.5 322.6,1065.5 326.3,1065.5 330.0,1065.4 333.8,1065.4 337.5,1065.3 341.2,1065.3 344.9,1065.2 348.6,1065.2 352.3,1065.1 356.0,1065.0 359.7,1064.9 363.4,1064.7 367.1,1064.6 370.8,1064.4 374.5,1064.2 378.3,1064.0 382.0,1063.8 385.7,1063.5 389.4,1063.2 393.1,1062.9 396.8,1062.5 400.5,1062.1 404.2,1061.6 407.9,1061.1 411.6,1060.5 415.3,1059.9 419.0,1059.1 422.8,1058.3 426.5,1057.4 430.2,1056.4 433.9,1055.2 437.6,1054.0 441.3,1052.6 445.0,1051.1 448.7,1049.4 452.4,1047.5 456.1,1045.5 459.8,1043.3 463.6,1040.9 467.3,1038.2 471.0,1035.4 474.7,1032.3 478.4,1028.9 482.1,1025.2 485.8,1021.2 489.5,1016.8 493.2,1012.1 496.9,1007.0 500.6,1001.4 504.3,995.4 508.1,988.9 511.8,981.8 515.5,974.3 519.2,966.3 522.9,957.7 526.6,948.6 530.3,938.9 534.0,928.6 537.7,917.8 541.4,906.3 545.1,894.2 548.8,881.5 552.6,868.2 556.3,854.1 560.0,839.4 563.7,824.0 567.4,807.8 571.1,791.0 574.8,779.4 578.5,767.9 582.2,756.6 585.9,745.4 589.6,734.3 593.4,723.4 597.1,712.5 600.8,701.8 604.5,691.2 608.2,680.8 611.9,670.6 615.6,660.5 619.3,650.6 623.0,641.0 626.7,631.6 630.4,622.3 634.1,613.3 637.9,604.5 641.6,595.8 645.3,587.3 649.0,579.1 652.7,571.0 656.4,563.0 660.1,555.3 663.8,547.8 667.5,540.5 671.2,533.4 674.9,526.4 678.6,519.7 682.4,513.0 686.1,506.6 689.8,500.2 693.5,493.9 697.2,487.7 700.9,481.6 704.6,475.5 708.3,469.5 712.0,463.5 715.7,457.7 719.4,451.9 723.2,446.2 726.9,440.7 730.6,435.3 734.3,430.0 738.0,424.9 741.7,420.0 745.4,415.2 749.1,410.5 752.8,405.9 756.5,401.4 760.2,397.0 763.9,392.6 767.7,388.3 771.4,384.1 775.1,379.9 778.8,375.7 782.5,371.6 786.2,367.6 789.9,363.6 793.6,359.6 797.3,355.7 801.0,351.8 804.7,348.0 808.4,344.1 812.2,340.4 815.9,336.7 819.6,333.0 823.3,329.3 827.0,325.8 830.7,322.2 838.1,315.3 845.5,308.7 853.0,302.3 860.4,296.3 867.8,290.5 875.2,285.0 882.6,279.8 890.0,274.9 897.5,270.1 904.9,265.6 912.3,261.2 919.7,257.0 927.1,252.9 934.5,248.9 942.0,245.0 949.4,241.2 956.8,237.6 964.2,234.0 971.6,230.5 979.0,227.1 986.5,223.8 993.9,220.5 1001.3,217.4 1008.7,214.3 1016.1,211.4 1023.5,208.5 1031.0,205.7 1038.4,203.0 1045.8,200.4 1053.2,197.8 1060.6,195.4 1068.0,193.0 1075.5,190.6 1082.9,188.4 1090.3,186.2 1097.7,184.1 1105.1,182.0 1112.6,180.0 1120.0,178.1 1127.4,176.2 1134.8,174.4 1142.2,172.6 1149.6,170.9 1157.1,169.3 1164.5,167.7 1171.9,166.2 1179.3,164.7 1186.7,163.3 1194.1,161.9 1201.6,160.5 1209.0,159.3 1216.4,158.0 1223.8,156.8 1231.2,155.6 1238.6,154.5 1246.1,153.4 1253.5,152.4 1260.9,151.3 1268.3,150.3 1275.7,149.3 1283.1,148.4 1290.6,147.5 1298.0,146.6 1305.4,145.7 1312.8,144.9 1320.2,144.0 1327.6,143.2 1335.1,142.4 1342.5,141.6 1349.9,140.9 1357.3,140.2 1364.7,139.5 1372.2,138.8 1379.6,138.1 1387.0,137.4 1394.4,136.8 1401.8,136.2 1409.2,135.6 1416.7,135.0 1424.1,134.4 1431.5,133.9 1438.9,133.4 1446.3,132.9 1453.7,132.4 1461.2,131.9 1468.6,131.4 1476.0,131.0 1483.4,130.6 1490.8,130.2 1498.2,129.8 1505.7,129.5 1513.1,129.1 1520.5,128.8 1527.9,128.5 1535.3,128.2 1542.7,127.9 1550.2,127.7 1557.6,127.4"/>
<polyline stroke="#D633FF" points="311.5,1065.5 315.2,1065.5 318.9,1065.5 322.6,1065.5 326.3,1065.5 330.0,1065.4 333.8,1065.4 337.5,1065.3 341.2,1065.3 344.9,1065.2 348.6,1065.2 352.3,1065.1 356.0,1065.0 359.7,1064.9 363.4,1064.7 367.1,1064.6 370.8,1064.4 374.5,1064.2 378.3,1064.0 382.0,1063.8 385.7,1063.5 389.4,1063.2 393.1,1062.9 396.8,1062.5 400.5,1062.1 404.2,1061.6 407.9,1061.1 411.6,1060.5 415.3,1059.9 419.0,1059.1 422.8,1058.3 426.5,1057.4 430.2,1056.4 433.9,1055.2 437.6,1054.0 441.3,1052.6 445.0,1051.1 448.7,1049.4 452.4,1047.5 456.1,1045.5 459.8,1043.3 463.6,1040.8 467.3,1038.2 471.0,1035.3 474.7,1032.2 478.4,1028.9 482.1,1025.2 485.8,1021.3 489.5,1017.0 493.2,1012.3 496.9,1007.3 500.6,1001.9 504.3,996.1 508.1,989.8 511.8,983.1 515.5,975.9 519.2,968.3 522.9,960.2 526.6,951.6 530.3,942.5 534.0,932.9 537.7,922.8 541.4,912.1 545.1,900.9 548.8,889.1 552.6,876.7 556.3,863.6 560.0,849.9 563.7,835.4 567.4,820.3 571.1,804.4 574.8,794.1 578.5,783.9 582.2,773.8 585.9,763.9 589.6,754.1 593.4,744.4 597.1,734.8 600.8,725.3 604.5,715.7 608.2,706.2 611.9,696.6 615.6,687.0 619.3,677.4 623.0,667.9 626.7,658.5 630.4,649.2 634.1,640.1 637.9,631.2 641.6,622.5 645.3,614.0 649.0,605.7 652.7,597.6 656.4,589.8 660.1,582.1 663.8,574.5 667.5,567.2 671.2,560.0 674.9,553.0 678.6,546.2 682.4,539.5 686.1,532.9 689.8,526.5 693.5,520.1 697.2,513.8 700.9,507.5 704.6,501.4 708.3,495.2 712.0,489.1 715.7,483.1 719.4,477.1 723.2,471.2 726.9,465.5 730.6,459.8 734.3,454.3 738.0,449.0 741.7,443.9 745.4,438.9 749.1,434.1 752.8,429.4 756.5,424.8 760.2,420.3 763.9,415.8 767.7,411.3 771.4,406.9 775.1,402.6 778.8,398.2 782.5,394.0 786.2,389.7 789.9,385.5 793.6,381.4 797.3,377.3 801.0,373.2 804.7,369.2 808.4,365.3 812.2,361.4 815.9,357.6 819.6,353.8 823.3,350.0 827.0,346.3 830.7,342.7 838.1,335.6 845.5,328.7 853.0,322.1 860.4,315.7 867.8,309.5 875.2,303.6 882.6,297.9 890.0,292.4 897.5,287.2 904.9,282.1 912.3,277.2 919.7,272.5 927.1,267.9 934.5,263.4 942.0,259.1 949.4,254.9 956.8,250.9 964.2,246.9 971.6,243.1 979.0,239.4 986.5,235.7 993.9,232.2 1001.3,228.8 1008.7,225.5 1016.1,222.2 1023.5,219.1 1031.0,216.0 1038.4,213.1 1045.8,210.2 1053.2,207.4 1060.6,204.7 1068.0,202.1 1075.5,199.5 1082.9,197.1 1090.3,194.7 1097.7,192.3 1105.1,190.1 1112.6,187.9 1120.0,185.8 1127.4,183.7 1134.8,181.7 1142.2,179.8 1149.6,177.9 1157.1,176.1 1164.5,174.3 1171.9,172.6 1179.3,170.9 1186.7,169.3 1194.1,167.7 1201.6,166.2 1209.0,164.7 1216.4,163.3 1223.8,161.9 1231.2,160.6 1238.6,159.3 1246.1,158.0 1253.5,156.8 1260.9,155.6 1268.3,154.4 1275.7,153.3 1283.1,152.2 1290.6,151.1 1298.0,150.1 1305.4,149.1 1312.8,148.1 1320.2,147.2 1327.6,146.3 1335.1,145.4 1342.5,144.5 1349.9,143.6 1357.3,142.8 1364.7,142.0 1372.2,141.2 1379.6,140.5 1387.0,139.7 1394.4,139.0 1401.8,138.3 1409.2,137.7 1416.7,137.0 1424.1,136.4 1431.5,135.8 1438.9,135.2 1446.3,134.6 1453.7,134.0 1461.2,133.5 1468.6,132.9 1476.0,132.4 1483.4,131.9 1490.8,131.5 1498.2,131.0 1505.7,130.6 1513.1,130.1 1520.5,129.7 1527.9,129.3 1535.3,129.0 1542.7,128.6 1550.2,128.2 1557.6,127.9"/>
</g>
<rect x="1350.4" y="175.8" width="239.6" height="859.6" fill="#fff" stroke="#000" stroke-width="2.6" shape-rendering="crispEdges"/>
<g stroke-width="9" stroke-linecap="round" fill="none">
<line x1="1359.5" y1="223.3" x2="1514.7" y2="223.3" stroke="#515151"/>
<line x1="1359.5" y1="308.3" x2="1514.7" y2="308.3" stroke="#F14040"/>
<line x1="1359.5" y1="393.3" x2="1514.7" y2="393.3" stroke="#1A6FDF"/>
<line x1="1359.5" y1="478.3" x2="1514.7" y2="478.3" stroke="#37AD6B"/>
<line x1="1359.5" y1="563.3" x2="1514.7" y2="563.3" stroke="#B177DE"/>
<line x1="1359.5" y1="648.3" x2="1514.7" y2="648.3" stroke="#CC9900"/>
<line x1="1359.5" y1="733.3" x2="1514.7" y2="733.3" stroke="#00CBCC"/>
<line x1="1359.5" y1="818.3" x2="1514.7" y2="818.3" stroke="#00FF00"/>
<line x1="1359.5" y1="903.3" x2="1514.7" y2="903.3" stroke="#8E8E00"/>
<line x1="1359.5" y1="988.3" x2="1514.7" y2="988.3" stroke="#D633FF"/>
</g>
<g font-size="70">
<text x="1531" y="246.4">A</text>
<text x="1531" y="331.4">B</text>
<text x="1531" y="416.4">C</text>
<text x="1531" y="501.4">D</text>
<text x="1531" y="586.4">E</text>
<text x="1531" y="671.4">F</text>
<text x="1531" y="756.4">G</text>
<text x="1531" y="841.4">H</text>
<text x="1531" y="926.4">I</text>
<text x="1531" y="1011.4">J</text>
</g>
</svg>
</body></html>
